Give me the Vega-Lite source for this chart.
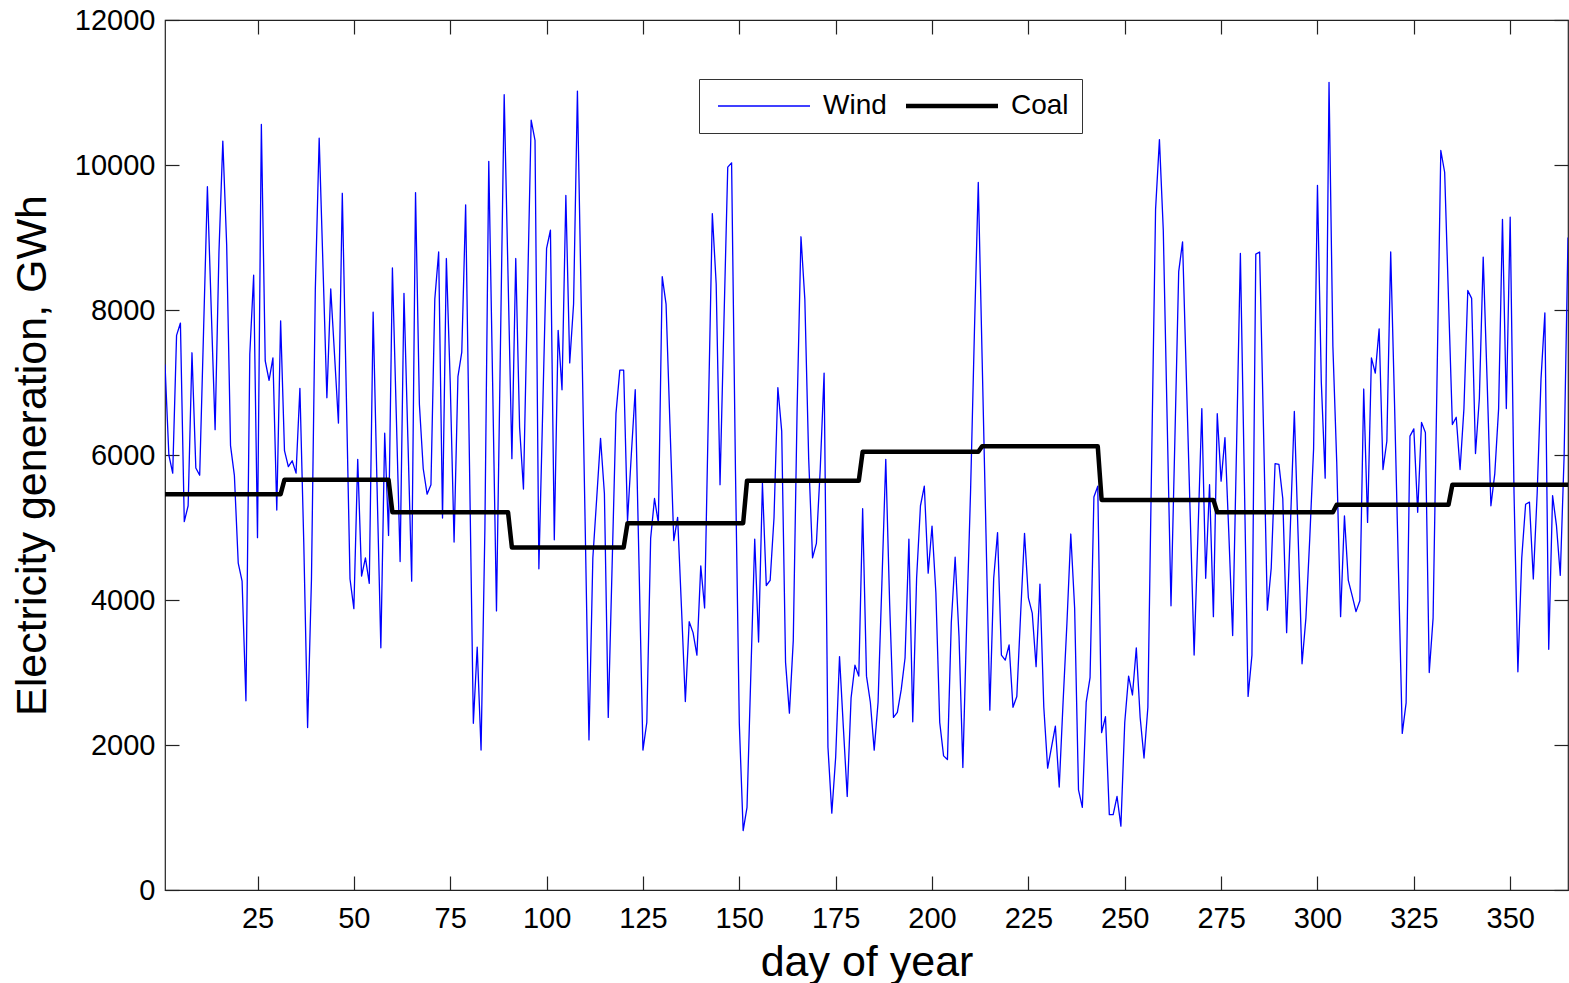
{
"$schema":"https://vega.github.io/schema/vega-lite/v6.json",
"width":1403,"height":870,
"autosize":{"type":"none"},
"padding":{"left":165,"top":20,"right":1,"bottom":93},
"background":"white",
"config":{"view":{"stroke":"#222","strokeWidth":1.2},"font":"Liberation Sans","axis":{"labelFont":"Liberation Sans","titleFont":"Liberation Sans","labelColor":"#000","titleColor":"#000","titleFontWeight":"normal","grid":false,"domain":false,"tickColor":"#222","tickWidth":1.2,"labelOverlap":false,"labelFlush":false}},
"datasets":{"d":[
{"d":1,"Wind":7250,"Coal":5460},{"d":2,"Wind":6000,"Coal":5460},{"d":3,"Wind":5750,"Coal":5460},{"d":4,"Wind":7650,"Coal":5460},{"d":5,"Wind":7820,"Coal":5460},{"d":6,"Wind":5080,"Coal":5460},{"d":7,"Wind":5300,"Coal":5460},{"d":8,"Wind":7410,"Coal":5460},{"d":9,"Wind":5820,"Coal":5460},{"d":10,"Wind":5720,"Coal":5460},
{"d":11,"Wind":7700,"Coal":5460},{"d":12,"Wind":9700,"Coal":5460},{"d":13,"Wind":8000,"Coal":5460},{"d":14,"Wind":6350,"Coal":5460},{"d":15,"Wind":8800,"Coal":5460},{"d":16,"Wind":10330,"Coal":5460},{"d":17,"Wind":8900,"Coal":5460},{"d":18,"Wind":6130,"Coal":5460},{"d":19,"Wind":5720,"Coal":5460},{"d":20,"Wind":4510,"Coal":5460},
{"d":21,"Wind":4260,"Coal":5460},{"d":22,"Wind":2610,"Coal":5460},{"d":23,"Wind":7390,"Coal":5460},{"d":24,"Wind":8480,"Coal":5460},{"d":25,"Wind":4860,"Coal":5460},{"d":26,"Wind":10560,"Coal":5460},{"d":27,"Wind":7300,"Coal":5460},{"d":28,"Wind":7030,"Coal":5460},{"d":29,"Wind":7340,"Coal":5460},{"d":30,"Wind":5240,"Coal":5460},
{"d":31,"Wind":7850,"Coal":5460},{"d":32,"Wind":6060,"Coal":5660},{"d":33,"Wind":5840,"Coal":5660},{"d":34,"Wind":5920,"Coal":5660},{"d":35,"Wind":5750,"Coal":5660},{"d":36,"Wind":6920,"Coal":5660},{"d":37,"Wind":4800,"Coal":5660},{"d":38,"Wind":2240,"Coal":5660},{"d":39,"Wind":4290,"Coal":5660},{"d":40,"Wind":8280,"Coal":5660},
{"d":41,"Wind":10370,"Coal":5660},{"d":42,"Wind":8580,"Coal":5660},{"d":43,"Wind":6790,"Coal":5660},{"d":44,"Wind":8290,"Coal":5660},{"d":45,"Wind":7370,"Coal":5660},{"d":46,"Wind":6440,"Coal":5660},{"d":47,"Wind":9610,"Coal":5660},{"d":48,"Wind":6950,"Coal":5660},{"d":49,"Wind":4290,"Coal":5660},{"d":50,"Wind":3880,"Coal":5660},
{"d":51,"Wind":5940,"Coal":5660},{"d":52,"Wind":4330,"Coal":5660},{"d":53,"Wind":4580,"Coal":5660},{"d":54,"Wind":4230,"Coal":5660},{"d":55,"Wind":7970,"Coal":5660},{"d":56,"Wind":5600,"Coal":5660},{"d":57,"Wind":3340,"Coal":5660},{"d":58,"Wind":6300,"Coal":5660},{"d":59,"Wind":4890,"Coal":5660},{"d":60,"Wind":8580,"Coal":5210},
{"d":61,"Wind":6570,"Coal":5210},{"d":62,"Wind":4530,"Coal":5210},{"d":63,"Wind":8230,"Coal":5210},{"d":64,"Wind":6250,"Coal":5210},{"d":65,"Wind":4260,"Coal":5210},{"d":66,"Wind":9620,"Coal":5210},{"d":67,"Wind":6700,"Coal":5210},{"d":68,"Wind":5810,"Coal":5210},{"d":69,"Wind":5460,"Coal":5210},{"d":70,"Wind":5590,"Coal":5210},
{"d":71,"Wind":8150,"Coal":5210},{"d":72,"Wind":8800,"Coal":5210},{"d":73,"Wind":5130,"Coal":5210},{"d":74,"Wind":8710,"Coal":5210},{"d":75,"Wind":7000,"Coal":5210},{"d":76,"Wind":4800,"Coal":5210},{"d":77,"Wind":7080,"Coal":5210},{"d":78,"Wind":7420,"Coal":5210},{"d":79,"Wind":9450,"Coal":5210},{"d":80,"Wind":5870,"Coal":5210},
{"d":81,"Wind":2300,"Coal":5210},{"d":82,"Wind":3350,"Coal":5210},{"d":83,"Wind":1930,"Coal":5210},{"d":84,"Wind":5000,"Coal":5210},{"d":85,"Wind":10050,"Coal":5210},{"d":86,"Wind":7000,"Coal":5210},{"d":87,"Wind":3850,"Coal":5210},{"d":88,"Wind":7400,"Coal":5210},{"d":89,"Wind":10970,"Coal":5210},{"d":90,"Wind":8470,"Coal":5210},
{"d":91,"Wind":5950,"Coal":4725},{"d":92,"Wind":8710,"Coal":4725},{"d":93,"Wind":6380,"Coal":4725},{"d":94,"Wind":5530,"Coal":4725},{"d":95,"Wind":8090,"Coal":4725},{"d":96,"Wind":10620,"Coal":4725},{"d":97,"Wind":10340,"Coal":4725},{"d":98,"Wind":4430,"Coal":4725},{"d":99,"Wind":6630,"Coal":4725},{"d":100,"Wind":8850,"Coal":4725},
{"d":101,"Wind":9100,"Coal":4725},{"d":102,"Wind":4830,"Coal":4725},{"d":103,"Wind":7720,"Coal":4725},{"d":104,"Wind":6900,"Coal":4725},{"d":105,"Wind":9580,"Coal":4725},{"d":106,"Wind":7270,"Coal":4725},{"d":107,"Wind":8080,"Coal":4725},{"d":108,"Wind":11020,"Coal":4725},{"d":109,"Wind":8040,"Coal":4725},{"d":110,"Wind":5060,"Coal":4725},
{"d":111,"Wind":2070,"Coal":4725},{"d":112,"Wind":4580,"Coal":4725},{"d":113,"Wind":5400,"Coal":4725},{"d":114,"Wind":6230,"Coal":4725},{"d":115,"Wind":5470,"Coal":4725},{"d":116,"Wind":2380,"Coal":4725},{"d":117,"Wind":4470,"Coal":4725},{"d":118,"Wind":6570,"Coal":4725},{"d":119,"Wind":7170,"Coal":4725},{"d":120,"Wind":7170,"Coal":4725},
{"d":121,"Wind":5090,"Coal":5060},{"d":122,"Wind":6020,"Coal":5060},{"d":123,"Wind":6900,"Coal":5060},{"d":124,"Wind":4440,"Coal":5060},{"d":125,"Wind":1930,"Coal":5060},{"d":126,"Wind":2310,"Coal":5060},{"d":127,"Wind":4850,"Coal":5060},{"d":128,"Wind":5400,"Coal":5060},{"d":129,"Wind":5060,"Coal":5060},{"d":130,"Wind":8460,"Coal":5060},
{"d":131,"Wind":8080,"Coal":5060},{"d":132,"Wind":6430,"Coal":5060},{"d":133,"Wind":4820,"Coal":5060},{"d":134,"Wind":5140,"Coal":5060},{"d":135,"Wind":3890,"Coal":5060},{"d":136,"Wind":2600,"Coal":5060},{"d":137,"Wind":3700,"Coal":5060},{"d":138,"Wind":3550,"Coal":5060},{"d":139,"Wind":3240,"Coal":5060},{"d":140,"Wind":4470,"Coal":5060},
{"d":141,"Wind":3890,"Coal":5060},{"d":142,"Wind":6640,"Coal":5060},{"d":143,"Wind":9330,"Coal":5060},{"d":144,"Wind":8360,"Coal":5060},{"d":145,"Wind":5590,"Coal":5060},{"d":146,"Wind":7810,"Coal":5060},{"d":147,"Wind":9970,"Coal":5060},{"d":148,"Wind":10030,"Coal":5060},{"d":149,"Wind":5800,"Coal":5060},{"d":150,"Wind":2300,"Coal":5060},
{"d":151,"Wind":820,"Coal":5060},{"d":152,"Wind":1140,"Coal":5645},{"d":153,"Wind":2990,"Coal":5645},{"d":154,"Wind":4840,"Coal":5645},{"d":155,"Wind":3420,"Coal":5645},{"d":156,"Wind":5610,"Coal":5645},{"d":157,"Wind":4200,"Coal":5645},{"d":158,"Wind":4270,"Coal":5645},{"d":159,"Wind":5130,"Coal":5645},{"d":160,"Wind":6930,"Coal":5645},
{"d":161,"Wind":6330,"Coal":5645},{"d":162,"Wind":3140,"Coal":5645},{"d":163,"Wind":2440,"Coal":5645},{"d":164,"Wind":3440,"Coal":5645},{"d":165,"Wind":6640,"Coal":5645},{"d":166,"Wind":9010,"Coal":5645},{"d":167,"Wind":8150,"Coal":5645},{"d":168,"Wind":5950,"Coal":5645},{"d":169,"Wind":4580,"Coal":5645},{"d":170,"Wind":4780,"Coal":5645},
{"d":171,"Wind":5810,"Coal":5645},{"d":172,"Wind":7130,"Coal":5645},{"d":173,"Wind":1970,"Coal":5645},{"d":174,"Wind":1060,"Coal":5645},{"d":175,"Wind":1830,"Coal":5645},{"d":176,"Wind":3220,"Coal":5645},{"d":177,"Wind":2240,"Coal":5645},{"d":178,"Wind":1290,"Coal":5645},{"d":179,"Wind":2650,"Coal":5645},{"d":180,"Wind":3100,"Coal":5645},
{"d":181,"Wind":2950,"Coal":5645},{"d":182,"Wind":5260,"Coal":6045},{"d":183,"Wind":2950,"Coal":6045},{"d":184,"Wind":2590,"Coal":6045},{"d":185,"Wind":1930,"Coal":6045},{"d":186,"Wind":2590,"Coal":6045},{"d":187,"Wind":4240,"Coal":6045},{"d":188,"Wind":5940,"Coal":6045},{"d":189,"Wind":3960,"Coal":6045},{"d":190,"Wind":2380,"Coal":6045},
{"d":191,"Wind":2450,"Coal":6045},{"d":192,"Wind":2760,"Coal":6045},{"d":193,"Wind":3200,"Coal":6045},{"d":194,"Wind":4840,"Coal":6045},{"d":195,"Wind":2320,"Coal":6045},{"d":196,"Wind":4300,"Coal":6045},{"d":197,"Wind":5300,"Coal":6045},{"d":198,"Wind":5570,"Coal":6045},{"d":199,"Wind":4370,"Coal":6045},{"d":200,"Wind":5020,"Coal":6045},
{"d":201,"Wind":4100,"Coal":6045},{"d":202,"Wind":2310,"Coal":6045},{"d":203,"Wind":1850,"Coal":6045},{"d":204,"Wind":1800,"Coal":6045},{"d":205,"Wind":3690,"Coal":6045},{"d":206,"Wind":4590,"Coal":6045},{"d":207,"Wind":3500,"Coal":6045},{"d":208,"Wind":1690,"Coal":6045},{"d":209,"Wind":3700,"Coal":6045},{"d":210,"Wind":5500,"Coal":6045},
{"d":211,"Wind":7700,"Coal":6045},{"d":212,"Wind":9760,"Coal":6045},{"d":213,"Wind":7330,"Coal":6120},{"d":214,"Wind":4920,"Coal":6120},{"d":215,"Wind":2480,"Coal":6120},{"d":216,"Wind":4300,"Coal":6120},{"d":217,"Wind":4930,"Coal":6120},{"d":218,"Wind":3240,"Coal":6120},{"d":219,"Wind":3170,"Coal":6120},{"d":220,"Wind":3380,"Coal":6120},
{"d":221,"Wind":2520,"Coal":6120},{"d":222,"Wind":2670,"Coal":6120},{"d":223,"Wind":3820,"Coal":6120},{"d":224,"Wind":4920,"Coal":6120},{"d":225,"Wind":4030,"Coal":6120},{"d":226,"Wind":3820,"Coal":6120},{"d":227,"Wind":3080,"Coal":6120},{"d":228,"Wind":4220,"Coal":6120},{"d":229,"Wind":2520,"Coal":6120},{"d":230,"Wind":1680,"Coal":6120},
{"d":231,"Wind":1970,"Coal":6120},{"d":232,"Wind":2260,"Coal":6120},{"d":233,"Wind":1420,"Coal":6120},{"d":234,"Wind":2590,"Coal":6120},{"d":235,"Wind":3680,"Coal":6120},{"d":236,"Wind":4910,"Coal":6120},{"d":237,"Wind":3890,"Coal":6120},{"d":238,"Wind":1380,"Coal":6120},{"d":239,"Wind":1140,"Coal":6120},{"d":240,"Wind":2590,"Coal":6120},
{"d":241,"Wind":2930,"Coal":6120},{"d":242,"Wind":5420,"Coal":6120},{"d":243,"Wind":5570,"Coal":6120},{"d":244,"Wind":2170,"Coal":5380},{"d":245,"Wind":2390,"Coal":5380},{"d":246,"Wind":1040,"Coal":5380},{"d":247,"Wind":1040,"Coal":5380},{"d":248,"Wind":1290,"Coal":5380},{"d":249,"Wind":880,"Coal":5380},{"d":250,"Wind":2310,"Coal":5380},
{"d":251,"Wind":2950,"Coal":5380},{"d":252,"Wind":2690,"Coal":5380},{"d":253,"Wind":3340,"Coal":5380},{"d":254,"Wind":2380,"Coal":5380},{"d":255,"Wind":1820,"Coal":5380},{"d":256,"Wind":2520,"Coal":5380},{"d":257,"Wind":6000,"Coal":5380},{"d":258,"Wind":9390,"Coal":5380},{"d":259,"Wind":10350,"Coal":5380},{"d":260,"Wind":9100,"Coal":5380},
{"d":261,"Wind":6500,"Coal":5380},{"d":262,"Wind":3920,"Coal":5380},{"d":263,"Wind":6200,"Coal":5380},{"d":264,"Wind":8530,"Coal":5380},{"d":265,"Wind":8940,"Coal":5380},{"d":266,"Wind":7040,"Coal":5380},{"d":267,"Wind":5140,"Coal":5380},{"d":268,"Wind":3240,"Coal":5380},{"d":269,"Wind":4920,"Coal":5380},{"d":270,"Wind":6640,"Coal":5380},
{"d":271,"Wind":4300,"Coal":5380},{"d":272,"Wind":5590,"Coal":5380},{"d":273,"Wind":3770,"Coal":5380},{"d":274,"Wind":6570,"Coal":5210},{"d":275,"Wind":5640,"Coal":5210},{"d":276,"Wind":6240,"Coal":5210},{"d":277,"Wind":4920,"Coal":5210},{"d":278,"Wind":3510,"Coal":5210},{"d":279,"Wind":6090,"Coal":5210},{"d":280,"Wind":8780,"Coal":5210},
{"d":281,"Wind":5750,"Coal":5210},{"d":282,"Wind":2670,"Coal":5210},{"d":283,"Wind":3240,"Coal":5210},{"d":284,"Wind":8770,"Coal":5210},{"d":285,"Wind":8800,"Coal":5210},{"d":286,"Wind":6360,"Coal":5210},{"d":287,"Wind":3860,"Coal":5210},{"d":288,"Wind":4440,"Coal":5210},{"d":289,"Wind":5880,"Coal":5210},{"d":290,"Wind":5870,"Coal":5210},
{"d":291,"Wind":5400,"Coal":5210},{"d":292,"Wind":3550,"Coal":5210},{"d":293,"Wind":5060,"Coal":5210},{"d":294,"Wind":6600,"Coal":5210},{"d":295,"Wind":4850,"Coal":5210},{"d":296,"Wind":3120,"Coal":5210},{"d":297,"Wind":3750,"Coal":5210},{"d":298,"Wind":4850,"Coal":5210},{"d":299,"Wind":6090,"Coal":5210},{"d":300,"Wind":9720,"Coal":5210},
{"d":301,"Wind":7000,"Coal":5210},{"d":302,"Wind":5680,"Coal":5210},{"d":303,"Wind":11140,"Coal":5210},{"d":304,"Wind":7500,"Coal":5210},{"d":305,"Wind":5900,"Coal":5313},{"d":306,"Wind":3770,"Coal":5313},{"d":307,"Wind":5160,"Coal":5313},{"d":308,"Wind":4270,"Coal":5313},{"d":309,"Wind":4060,"Coal":5313},{"d":310,"Wind":3840,"Coal":5313},
{"d":311,"Wind":3990,"Coal":5313},{"d":312,"Wind":6910,"Coal":5313},{"d":313,"Wind":5070,"Coal":5313},{"d":314,"Wind":7340,"Coal":5313},{"d":315,"Wind":7130,"Coal":5313},{"d":316,"Wind":7740,"Coal":5313},{"d":317,"Wind":5800,"Coal":5313},{"d":318,"Wind":6190,"Coal":5313},{"d":319,"Wind":8800,"Coal":5313},{"d":320,"Wind":6700,"Coal":5313},
{"d":321,"Wind":4440,"Coal":5313},{"d":322,"Wind":2160,"Coal":5313},{"d":323,"Wind":2580,"Coal":5313},{"d":324,"Wind":6260,"Coal":5313},{"d":325,"Wind":6360,"Coal":5313},{"d":326,"Wind":5210,"Coal":5313},{"d":327,"Wind":6450,"Coal":5313},{"d":328,"Wind":6310,"Coal":5313},{"d":329,"Wind":3000,"Coal":5313},{"d":330,"Wind":3750,"Coal":5313},
{"d":331,"Wind":6980,"Coal":5313},{"d":332,"Wind":10200,"Coal":5313},{"d":333,"Wind":9900,"Coal":5313},{"d":334,"Wind":8150,"Coal":5313},{"d":335,"Wind":6420,"Coal":5590},{"d":336,"Wind":6520,"Coal":5590},{"d":337,"Wind":5800,"Coal":5590},{"d":338,"Wind":6640,"Coal":5590},{"d":339,"Wind":8270,"Coal":5590},{"d":340,"Wind":8160,"Coal":5590},
{"d":341,"Wind":6020,"Coal":5590},{"d":342,"Wind":6780,"Coal":5590},{"d":343,"Wind":8730,"Coal":5590},{"d":344,"Wind":7050,"Coal":5590},{"d":345,"Wind":5300,"Coal":5590},{"d":346,"Wind":5740,"Coal":5590},{"d":347,"Wind":6640,"Coal":5590},{"d":348,"Wind":9250,"Coal":5590},{"d":349,"Wind":6640,"Coal":5590},{"d":350,"Wind":9280,"Coal":5590},
{"d":351,"Wind":5470,"Coal":5590},{"d":352,"Wind":3010,"Coal":5590},{"d":353,"Wind":4580,"Coal":5590},{"d":354,"Wind":5320,"Coal":5590},{"d":355,"Wind":5350,"Coal":5590},{"d":356,"Wind":4290,"Coal":5590},{"d":357,"Wind":5470,"Coal":5590},{"d":358,"Wind":7050,"Coal":5590},{"d":359,"Wind":7960,"Coal":5590},{"d":360,"Wind":3320,"Coal":5590},
{"d":361,"Wind":5440,"Coal":5590},{"d":362,"Wind":5030,"Coal":5590},{"d":363,"Wind":4340,"Coal":5590},{"d":364,"Wind":6000,"Coal":5590},{"d":365,"Wind":9000,"Coal":5590}
]},
"data":{"name":"d"},
"transform":[{"fold":["Wind","Coal"],"as":["series","value"]}],
"layer":[
{"mark":{"type":"line","strokeJoin":"round","clip":true},
 "encoding":{
  "x":{"field":"d","type":"quantitative","scale":{"domain":[1,365],"nice":false,"zero":false},
       "axis":{"orient":"bottom","values":[25,50,75,100,125,150,175,200,225,250,275,300,325,350],"title":"day of year","titleFontSize":43,"labelFontSize":29,"tickSize":-14,"labelPadding":28,"titlePadding":8}},
  "y":{"field":"value","type":"quantitative","scale":{"domain":[0,12000],"nice":false},
       "axis":{"orient":"left","values":[0,2000,4000,6000,8000,10000,12000],"format":"d","title":"Electricity generation, GWh","titleFontSize":43,"labelFontSize":29,"tickSize":-14,"labelPadding":24,"titlePadding":20}},
  "color":{"field":"series","type":"nominal","scale":{"domain":["Wind","Coal"],"range":["#0000ff","#000000"]},
       "legend":{"orient":"none","legendX":534,"legendY":59,"direction":"horizontal","title":null,"strokeColor":"#333","fillColor":"#ffffff","padding":13,"labelFontSize":28,"labelFont":"Liberation Sans","labelColor":"#000","symbolType":"M-4,0H4","symbolSize":529,"symbolOffset":38,"columnPadding":10,"labelOffset":45}},
  "strokeWidth":{"field":"series","type":"nominal","scale":{"type":"ordinal","domain":["Wind","Coal"],"range":[1.3,4.5]},
       "legend":{"orient":"none","legendX":534,"legendY":59,"direction":"horizontal","title":null,"strokeColor":"#333","fillColor":"#ffffff","padding":13,"labelFontSize":28,"labelFont":"Liberation Sans","labelColor":"#000","symbolType":"M-4,0H4","symbolSize":529,"symbolOffset":38,"columnPadding":10,"labelOffset":45}}
 }},
{"mark":{"type":"point","opacity":0},
 "encoding":{
  "x":{"field":"d","type":"quantitative","axis":{"orient":"top","values":[25,50,75,100,125,150,175,200,225,250,275,300,325,350],"labels":false,"title":null,"tickSize":-14}},
  "y":{"field":"value","type":"quantitative","axis":{"orient":"right","values":[0,2000,4000,6000,8000,10000,12000],"labels":false,"title":null,"tickSize":-14}}
 }}
],
"resolve":{"axis":{"x":"independent","y":"independent"}}
}
